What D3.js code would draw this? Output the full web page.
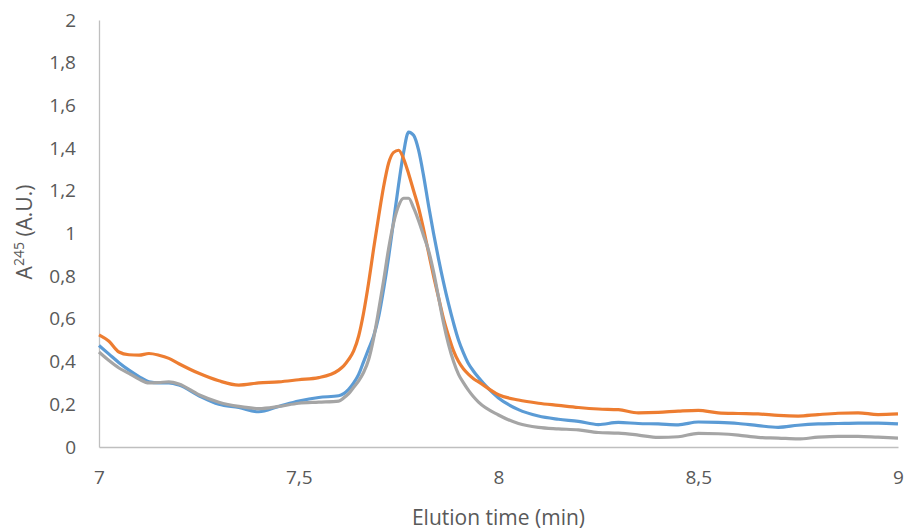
<!DOCTYPE html>
<html lang='en'>
<head>
  <title>Elution profile</title>
  <script src='https://cdn.jsdelivr.net/npm/d3@7/dist/d3.min.js'></script>
  <style>
    body { margin: 0; background: #fff; }
    text { font-family: "Open Sans", sans-serif; fill: #595959; }
  </style>
</head>
<body>
  <script>
    // elution time (min), shared by the three traces
    const times = [
      7.00, 7.025, 7.05, 7.075, 7.10, 7.125, 7.15, 7.175, 7.20, 7.25, 7.30, 7.35, 7.40, 7.45, 7.50, 7.55,
      7.60, 7.6125, 7.625, 7.6375, 7.65, 7.6625, 7.675, 7.6875, 7.70, 7.7125, 7.725, 7.7375, 7.75,
      7.7625, 7.775, 7.7875, 7.80, 7.8125, 7.825, 7.8375, 7.85, 7.8625, 7.875, 7.8875, 7.90, 7.9125,
      7.925, 7.9375, 7.95, 8.00, 8.05, 8.10, 8.15, 8.20, 8.25, 8.30, 8.35, 8.40, 8.45, 8.50, 8.55,
      8.60, 8.65, 8.70, 8.75, 8.80, 8.85, 8.90, 8.95, 9.00
    ];
    // absorbance at 245 nm
    const blueValues = [
      0.475, 0.435, 0.395, 0.36, 0.33, 0.305, 0.30, 0.30, 0.29, 0.24, 0.20, 0.185, 0.165, 0.19, 0.215, 0.232,
      0.24, 0.25, 0.27, 0.30, 0.34, 0.40, 0.46, 0.52, 0.61, 0.74, 0.89, 1.06, 1.23,
      1.38, 1.475, 1.46, 1.39, 1.27, 1.13, 1.00, 0.88, 0.77, 0.67, 0.58, 0.50, 0.44,
      0.39, 0.355, 0.325, 0.23, 0.175, 0.145, 0.13, 0.12, 0.105, 0.115, 0.11, 0.108, 0.104, 0.117, 0.115,
      0.11, 0.10, 0.092, 0.102, 0.108, 0.11, 0.112, 0.112, 0.108
    ];
    const orangeValues = [
      0.525, 0.495, 0.445, 0.432, 0.43, 0.438, 0.43, 0.415, 0.39, 0.345, 0.31, 0.29, 0.30, 0.305, 0.315, 0.325,
      0.36, 0.38, 0.41, 0.45, 0.52, 0.63, 0.77, 0.93, 1.08, 1.22, 1.33, 1.38, 1.39,
      1.35, 1.28, 1.20, 1.12, 1.02, 0.91, 0.80, 0.70, 0.60, 0.52, 0.45, 0.40, 0.365,
      0.34, 0.32, 0.305, 0.245, 0.22, 0.205, 0.195, 0.185, 0.178, 0.175, 0.16, 0.162, 0.168, 0.172, 0.16,
      0.157, 0.155, 0.148, 0.145, 0.152, 0.158, 0.16, 0.152, 0.155
    ];
    const greyValues = [
      0.445, 0.405, 0.37, 0.345, 0.318, 0.30, 0.302, 0.305, 0.295, 0.245, 0.21, 0.19, 0.18, 0.19, 0.205, 0.21,
      0.215, 0.23, 0.25, 0.28, 0.31, 0.35, 0.41, 0.51, 0.64, 0.78, 0.93, 1.05, 1.13,
      1.165, 1.165, 1.12, 1.06, 0.99, 0.92, 0.82, 0.70, 0.58, 0.48, 0.40, 0.34, 0.30,
      0.265, 0.235, 0.21, 0.15, 0.11, 0.092, 0.085, 0.08, 0.068, 0.065, 0.056, 0.045, 0.048, 0.064, 0.062,
      0.056, 0.045, 0.042, 0.038, 0.046, 0.05, 0.05, 0.046, 0.042
    ];
    const xTicks = [7, 7.5, 8, 8.5, 9];
    const yTicks = [0, 0.2, 0.4, 0.6, 0.8, 1, 1.2, 1.4, 1.6, 1.8, 2];

    let width = 905, height = 530;
    let margins = { left: 99, top: 20, right: 7, bottom: 83 };
    let plotW = width - margins.left - margins.right;
    let plotH = height - margins.top - margins.bottom;

    let svg = d3.select("body").append("svg")
      .attr("width", width)
      .attr("height", height);

    let xScale = d3.scaleLinear().domain([7, 9]).range([margins.left, margins.left + plotW]);
    let yScale = d3.scaleLinear().domain([0, 2]).range([margins.top + plotH, margins.top]);

    // comma decimals, as in the original
    let fmt = d => String(d).replace(".", ",");

    // axes, no tick marks
    let xAxis = d3.axisBottom(xScale).tickValues(xTicks).tickSize(0).tickPadding(24).tickFormat(fmt);
    let xAxisG = svg.append("g")
      .attr("transform", `translate(0, ${margins.top + plotH})`)
      .call(xAxis);
    let yAxis = d3.axisLeft(yScale).tickValues(yTicks).tickSize(0).tickPadding(23).tickFormat(fmt);
    let yAxisG = svg.append("g")
      .attr("transform", `translate(${margins.left}, 0)`)
      .call(yAxis);
    [xAxisG, yAxisG].forEach(g => {
      g.select(".domain").attr("stroke", "#bfbfbf").attr("stroke-width", 1.3);
      g.selectAll("text").style("font-size", "19px").attr("fill", "#595959");
    });

    // the traces
    let series = [
      { name: "blue", color: "#5b9bd5", values: blueValues },
      { name: "orange", color: "#ed7d31", values: orangeValues },
      { name: "grey", color: "#a5a5a5", values: greyValues }
    ];
    let line = d3.line()
      .x((d, i) => xScale(times[i]))
      .y(d => yScale(d))
      .curve(d3.curveMonotoneX);
    svg.append("g").selectAll("path").data(series).join("path")
      .attr("d", d => line(d.values))
      .attr("fill", "none")
      .attr("stroke", d => d.color)
      .attr("stroke-width", 3.2)
      .attr("stroke-linejoin", "round");

    // axis titles
    svg.append("text")
      .attr("x", margins.left + plotW / 2)
      .attr("y", 525)
      .attr("text-anchor", "middle")
      .style("font-size", "21px")
      .text("Elution time (min)");
    let yTitle = svg.append("text")
      .attr("transform", `translate(32, 232) rotate(-90)`)
      .attr("text-anchor", "middle")
      .style("font-size", "21px");
    yTitle.append("tspan").text("A");
    yTitle.append("tspan").attr("dy", -8).style("font-size", "14px").text("245");
    yTitle.append("tspan").attr("dy", 8).text(" (A.U.)");
  </script>
</body>
</html>
